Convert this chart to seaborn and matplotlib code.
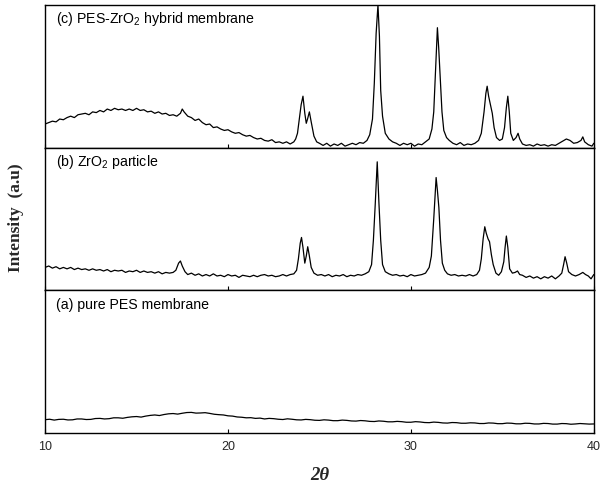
import matplotlib
matplotlib.use("Agg")
import matplotlib.pyplot as plt
import seaborn as sns
import pandas as pd

# ---- data (2theta, relative intensity) ----
c_x = [10.0,10.2,10.4,10.6,10.8,11.0,11.2,11.4,11.6,11.8,12.0,12.2,12.4,12.6,12.8,13.0,13.2,13.4,13.6,13.8,
       14.0,14.2,14.4,14.6,14.8,15.0,15.2,15.4,15.6,15.8,16.0,16.2,16.4,16.6,16.8,17.0,17.2,17.4,17.5,17.6,
       17.8,18.0,18.2,18.4,18.6,18.8,19.0,19.2,19.4,19.6,19.8,20.0,20.2,20.4,20.6,20.8,21.0,21.2,21.4,21.6,
       21.8,22.0,22.2,22.4,22.6,22.8,23.0,23.2,23.4,23.6,23.7,23.8,23.9,24.0,24.1,24.2,24.28,24.35,24.45,24.55,
       24.7,24.85,25.0,25.2,25.4,25.6,25.8,26.0,26.2,26.4,26.6,26.8,27.0,27.2,27.4,27.6,27.75,27.9,28.0,28.1,
       28.2,28.28,28.35,28.45,28.6,28.8,29.0,29.2,29.4,29.6,29.8,30.0,30.2,30.4,30.6,30.8,31.0,31.15,31.25,31.35,
       31.45,31.52,31.6,31.7,31.8,31.95,32.1,32.3,32.5,32.7,32.9,33.1,33.3,33.5,33.7,33.85,34.0,34.1,34.17,34.25,
       34.35,34.45,34.55,34.68,34.85,35.0,35.12,35.22,35.3,35.38,35.46,35.6,35.75,35.86,35.95,36.1,36.3,36.5,36.7,36.9,
       37.1,37.3,37.5,37.7,37.9,38.1,38.3,38.5,38.7,38.9,39.1,39.3,39.4,39.5,39.7,39.9,40.0]
c_y = [16.5,17.5,18.5,18,20,19.5,21,22,21,23,23.5,24,23,25,24.5,26,25,27,26,27.5,
       26.5,27,26,27,26,27.5,26,26.5,25,25.5,24,25,23.5,24,22.5,23,22,24,27,25,
       22,21,19,20,17.5,16,16.5,14,14.5,13,12,12.5,11,10,10.5,9,8,8.5,7,6,
       6.5,5,4.5,5.5,3.5,4,3,4,2.5,4,6,10,20,30,36,24,17,20,25,18,
       8,4,3,1.5,3,1,2.5,1.5,3,1,2,3,2,3.5,3,5,9,20,45,80,
       100,78,40,22,10,6,4,3,1.5,3,2,3,1,2.5,2,4,6,13,25,55,
       84,70,50,25,12,7,5,3,2,3.5,1.5,2.5,2,3,5,10,25,38,43,36,
       30,24,14,7,5,6,14,28,36,25,10,5,7,10,6,2.5,1.5,2,1,2.5,
       1.5,2,1,2,1.5,3,4.5,6,5,3,3.5,5,7.5,4,2,1,3]

b_x = [10.0,10.2,10.4,10.6,10.8,11.0,11.2,11.4,11.6,11.8,12.0,12.2,12.4,12.6,12.8,13.0,13.2,13.4,13.6,13.8,
       14.0,14.2,14.4,14.6,14.8,15.0,15.2,15.4,15.6,15.8,16.0,16.2,16.4,16.6,16.8,17.0,17.15,17.3,17.4,17.5,
       17.65,17.8,18.0,18.2,18.4,18.6,18.8,19.0,19.2,19.4,19.6,19.8,20.0,20.2,20.4,20.6,20.8,21.0,21.2,21.4,
       21.6,21.8,22.0,22.2,22.4,22.6,22.8,23.0,23.2,23.4,23.6,23.75,23.85,23.95,24.02,24.1,24.2,24.28,24.36,24.45,
       24.55,24.7,24.9,25.1,25.3,25.5,25.7,25.9,26.1,26.3,26.5,26.7,26.9,27.1,27.3,27.5,27.7,27.85,27.95,28.05,
       28.16,28.25,28.35,28.45,28.6,28.8,29.0,29.2,29.4,29.6,29.8,30.0,30.2,30.4,30.6,30.8,31.0,31.12,31.25,31.38,
       31.45,31.53,31.62,31.72,31.85,32.0,32.2,32.4,32.6,32.8,33.0,33.2,33.4,33.6,33.75,33.85,33.95,34.04,34.12,34.22,
       34.3,34.4,34.5,34.65,34.8,34.95,35.08,35.15,35.22,35.3,35.4,35.55,35.7,35.83,35.95,36.1,36.3,36.5,36.7,36.9,
       37.1,37.3,37.5,37.7,37.9,38.1,38.25,38.35,38.43,38.52,38.62,38.8,39.0,39.2,39.4,39.55,39.7,39.85,40.0]
b_y = [16,17,15.5,16.5,15,16,15,16,14.5,15.5,14.5,15,14,15,14,14.5,13.5,14.5,13,14,
       13.5,14,12.5,13.5,13,14,12.5,13.5,12.5,13,12,13,11.5,12.5,12,12.5,14,19,20.5,17,
       13,11,12,10.5,11.5,10,11,10,11.5,10,10.5,9.5,11,10,10.5,9,10.5,10,9.5,10.5,
       9.5,10.5,11,10,10.5,9.5,10,11,10,11,11.5,14,22,33,37,30,19,24,30.5,24,
       16,12,10.5,11,10,11,9.5,10.5,10,11,9.5,10.5,10,11,10.5,11.5,13,18,35,60,
       90,62,35,18,13,11.5,10.5,11,10,10.5,9.5,11,10,10.5,11,12,16,24,50,79,
       70,58,35,19,14,11.5,10.5,11,10,10.5,10,11,10,11,14,22,36,44.5,40,36,
       34,25,18,12,10.5,13,20,30,38,30,15,12,12.5,13.5,11,10.5,9,10,8.5,9.5,
       8,9.5,8.5,10,8,10,12,18,23.5,19,13,11,10,11,12.5,11,10,8,11]

a_x = [10.0,10.25,10.5,10.75,11.0,11.25,11.5,11.75,12.0,12.25,12.5,12.75,13.0,13.25,13.5,13.75,14.0,14.25,14.5,14.75,
       15.0,15.25,15.5,15.75,16.0,16.25,16.5,16.75,17.0,17.25,17.5,17.75,18.0,18.25,18.5,18.75,19.0,19.25,19.5,19.75,
       20.0,20.25,20.5,20.75,21.0,21.25,21.5,21.75,22.0,22.25,22.5,22.75,23.0,23.25,23.5,23.75,24.0,24.25,24.5,24.75,
       25.0,25.25,25.5,25.75,26.0,26.25,26.5,26.75,27.0,27.25,27.5,27.75,28.0,28.25,28.5,28.75,29.0,29.25,29.5,29.75,
       30.0,30.25,30.5,30.75,31.0,31.25,31.5,31.75,32.0,32.25,32.5,32.75,33.0,33.25,33.5,33.75,34.0,34.25,34.5,34.75,
       35.0,35.25,35.5,35.75,36.0,36.25,36.5,36.75,37.0,37.25,37.5,37.75,38.0,38.25,38.5,38.75,39.0,39.25,39.5,39.75,40.0]
a_y = [9.3,9.6,9.0,9.5,9.6,9.1,9.2,9.8,9.8,9.4,9.5,10.1,10.2,9.8,10.0,10.6,10.6,10.3,10.9,11.3,
       11.5,11.1,11.8,12.3,12.6,12.2,12.9,13.4,13.6,13.2,13.8,14.3,14.4,13.9,14.0,14.2,13.7,13.1,12.8,12.6,
       12.0,11.8,11.2,11.0,10.6,10.7,10.2,10.4,9.8,10.2,10.0,9.6,9.4,9.9,9.6,9.2,9.1,9.5,9.3,8.9,
       8.8,9.2,9.0,8.6,8.6,9.0,8.8,8.4,8.3,8.7,8.5,8.1,8.0,8.4,8.2,7.8,7.8,8.1,7.9,7.5,
       7.5,7.9,7.7,7.3,7.2,7.6,7.4,7.0,6.9,7.3,7.2,6.8,6.8,7.1,7.0,6.6,6.6,7.0,6.9,6.5,
       6.5,6.9,6.8,6.4,6.4,6.8,6.7,6.3,6.3,6.7,6.6,6.2,6.2,6.6,6.5,6.1,6.3,6.6,6.4,6.2,6.3]

labels = ["(c) PES-ZrO$_2$ hybrid membrane", "(b) ZrO$_2$ particle", "(a) pure PES membrane"]
xticks = [10, 20, 30, 40]

sns.set_style("ticks")
plt.rcParams["font.family"] = ["Liberation Sans", "DejaVu Sans"]
plt.rcParams["mathtext.fontset"] = "custom"
plt.rcParams["mathtext.rm"] = "Liberation Sans"
plt.rcParams["mathtext.it"] = "Liberation Sans:italic"
plt.rcParams["mathtext.bf"] = "Liberation Sans:bold"

fig, axes = plt.subplots(3, 1, figsize=(6.01, 4.87), dpi=100, sharex=True)
fig.subplots_adjust(left=0.075, right=0.988, top=0.99, bottom=0.111, hspace=0)

series = [(c_x, c_y), (b_x, b_y), (a_x, a_y)]
for ax, (xs, ys), lab in zip(axes, series, labels):
    df = pd.DataFrame({"two_theta": xs, "intensity": ys})
    sns.lineplot(data=df, x="two_theta", y="intensity", ax=ax, color="black", linewidth=0.9)
    ax.set_xlim(10, 40)
    ax.set_ylim(0, 100)
    ax.set_yticks([])
    ax.set_ylabel("")
    ax.set_xlabel("")
    for s in ax.spines.values():
        s.set_color("black")
        s.set_linewidth(1.0)
    ax.text(0.02, 0.9, lab, transform=ax.transAxes, fontsize=10.2, color="black",
            va="center", ha="left")
    ax.tick_params(axis="x", direction="in", length=3, color="black")

axes[-1].set_xticks(xticks)
axes[-1].set_xticklabels([str(t) for t in xticks], fontsize=9)
axes[-1].tick_params(axis="x", pad=6)

fig.text(0.026, 0.552, "Intensity  (a.u)", rotation=90, ha="center", va="center",
         fontsize=12.5, fontweight="bold", family=["Liberation Serif", "DejaVu Serif"])
fig.text(0.532, 0.024, "2\u03b8", ha="center", va="center", fontsize=13.5,
         fontweight="bold", fontstyle="italic", family=["Liberation Serif", "DejaVu Serif"])

fig.savefig("out.png", dpi=100)
